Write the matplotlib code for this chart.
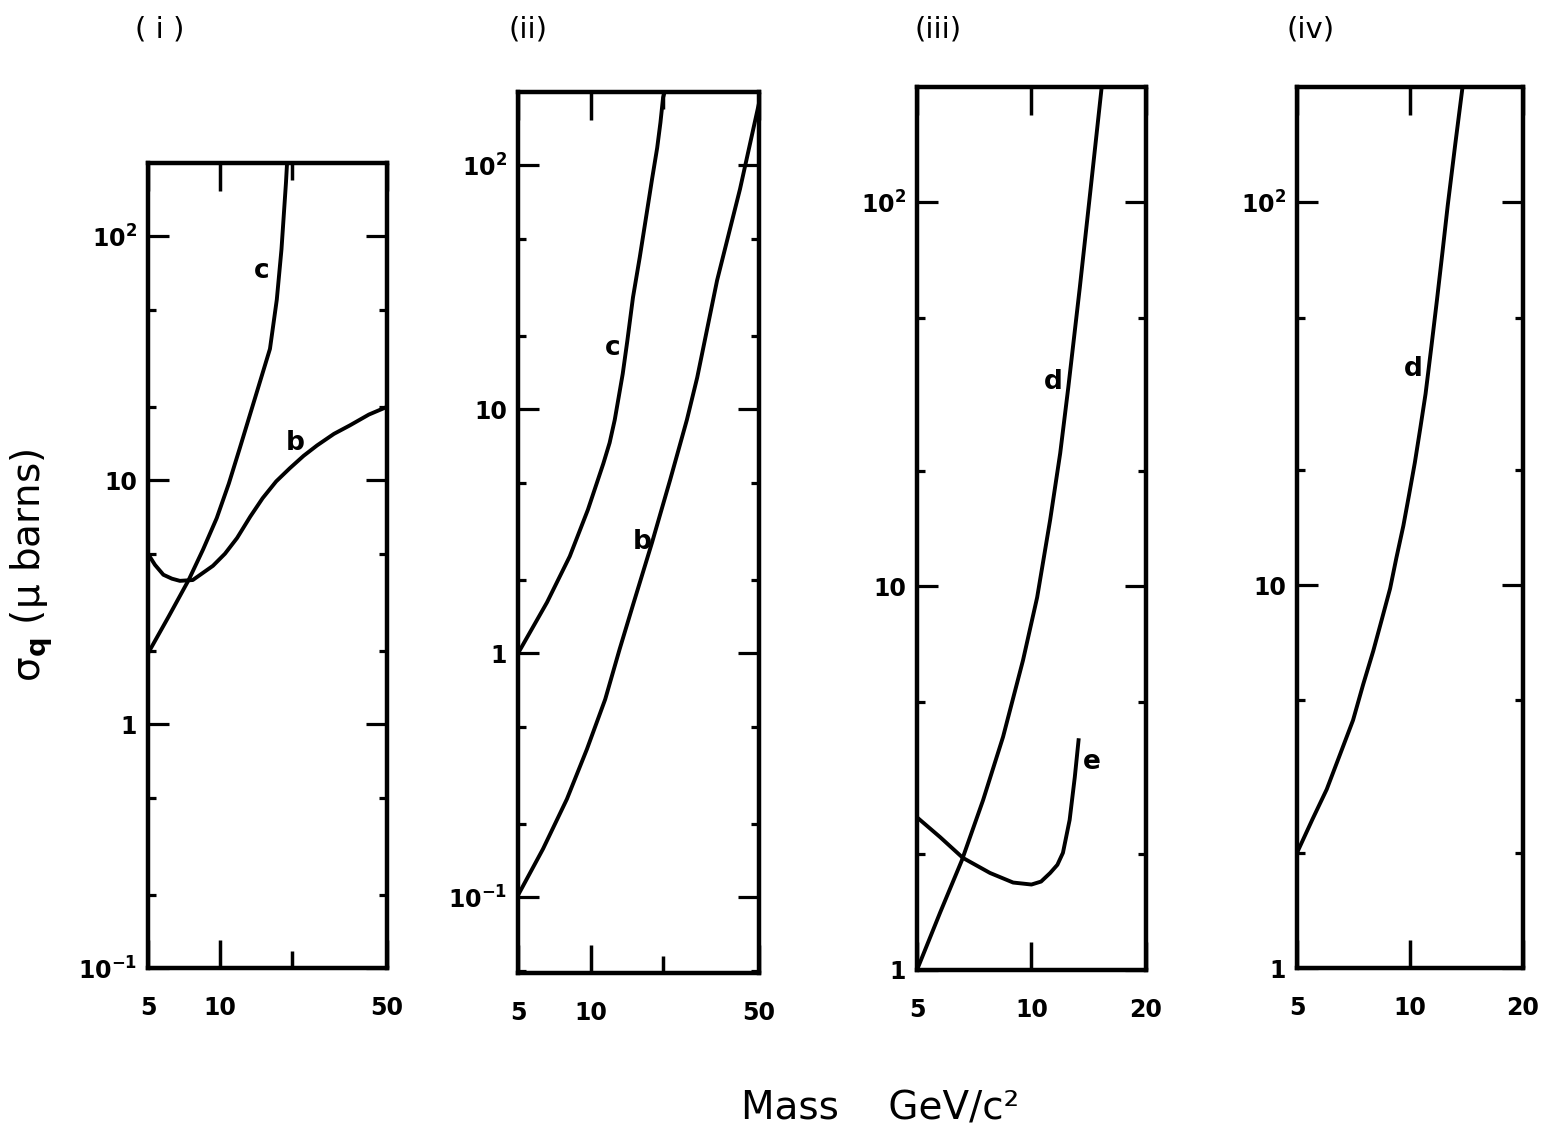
import matplotlib

matplotlib.use("Agg")
import matplotlib.pyplot as plt
from matplotlib.ticker import FixedLocator, FixedFormatter, NullFormatter

plt.rcParams.update(
    {
        "font.family": ["DejaVu Sans"],
        "font.weight": "bold",
        "mathtext.default": "bf",
    }
)

# ---- data (mass in GeV/c^2, sigma in micro-barns) ----
# panel (i)
I_C_MASS = [5.0, 6.1, 7.4, 8.5, 9.7, 10.9, 12.1, 14.0, 16.2, 17.3, 18.1, 18.9, 19.1]
I_C_SIG = [1.95, 2.76, 3.9, 5.2, 7.0, 9.7, 13.5, 21.6, 34.6, 55, 88.5, 166, 200]
I_B_MASS = [5.0, 5.35, 5.8, 6.3, 6.8, 7.7, 9.35, 10.5, 11.8, 13.4, 15.1, 17.2, 19.6,
            22.4, 25.5, 30.0, 35.0, 42.0, 50.0]
I_B_SIG = [5.0, 4.5, 4.1, 3.95, 3.87, 3.9, 4.46, 5.0, 5.8, 7.1, 8.45, 9.9, 11.2,
           12.6, 13.9, 15.5, 16.8, 18.6, 20.0]

# panel (ii)
II_C_MASS = [5.0, 6.6, 8.2, 9.75, 11.3, 12.0, 12.6, 13.1, 13.6, 14.2, 15.0, 16.0, 17.1,
             18.0, 18.9, 19.5, 20.0, 20.3]
II_C_SIG = [1.0, 1.62, 2.5, 3.88, 6.0, 7.3, 9.06, 11.3, 14.0, 19.0, 28.8, 42, 63.7,
            88, 118, 150, 190, 200]
II_B_MASS = [5.0, 6.35, 7.98, 9.66, 11.5, 13.2, 15.0, 18.0, 21.4, 25.1, 27.7, 33.5, 41.7, 50.0]
II_B_SIG = [0.102, 0.158, 0.253, 0.405, 0.648, 1.04, 1.58, 2.85, 5.15, 9.06, 13.5, 33.8, 80, 180]

# panel (iii)
III_D_MASS = [5.0, 5.75, 6.56, 7.46, 8.42, 9.5, 10.35, 11.2, 11.9, 12.5, 13.4, 14.3, 15.3]
III_D_SIG = [1.0, 1.41, 1.93, 2.77, 4.05, 6.41, 9.35, 14.9, 22.2, 33.0, 60.0, 108, 200]
III_E_MASS = [5.0, 5.75, 6.6, 7.78, 8.95, 10.0, 10.6, 11.2, 11.7, 12.1, 12.6, 13.0, 13.3]
III_E_SIG = [2.5, 2.22, 1.96, 1.79, 1.69, 1.67, 1.70, 1.79, 1.88, 2.02, 2.46, 3.18, 3.97]

# panel (iv)
IV_D_MASS = [5.0, 5.5, 6.0, 6.5, 7.05, 7.5, 7.98, 8.4, 8.85, 9.2, 9.6, 9.95, 10.3, 10.65,
             11.0, 11.4, 11.8, 12.2, 12.6, 13.2, 13.8]
IV_D_SIG = [2.0, 2.45, 2.93, 3.6, 4.44, 5.5, 6.73, 8.1, 9.8, 11.8, 14.3, 17.3, 20.9, 25.7,
            31.6, 42, 55.7, 74, 98, 142, 200]

PANEL_TITLES = ["( i )", "(ii)", "(iii)", "(iv)"]
Y_TICKS_WIDE = [0.1, 1, 10, 100]
Y_LABELS_WIDE = ["$10^{-1}$", "1", "10", "$10^{2}$"]
Y_TICKS_NARROW = [1, 10, 100]
Y_LABELS_NARROW = ["1", "10", "$10^{2}$"]
Y_MINOR = [0.05, 0.2, 0.5, 2, 5, 20, 50]
X_TICKS_WIDE = [5, 10, 50]
X_TICKS_NARROW = [5, 10, 20]

LW = 2.8
INK = "black"


def style_axes(ax, xlim, ylim, xticks, xminor, yticks, ylabels):
    ax.set_xscale("log")
    ax.set_yscale("log")
    ax.set_xlim(*xlim)
    ax.set_ylim(*ylim)
    for s in ax.spines.values():
        s.set_linewidth(3.2)
    ax.xaxis.set_major_locator(FixedLocator(xticks))
    ax.xaxis.set_major_formatter(FixedFormatter([str(t) for t in xticks]))
    ax.xaxis.set_minor_locator(FixedLocator(xminor))
    ax.xaxis.set_minor_formatter(NullFormatter())
    ax.yaxis.set_major_locator(FixedLocator(yticks))
    ax.yaxis.set_major_formatter(FixedFormatter(ylabels))
    ax.yaxis.set_minor_locator(FixedLocator([m for m in Y_MINOR if ylim[0] < m < ylim[1]]))
    ax.yaxis.set_minor_formatter(NullFormatter())
    ax.tick_params(which="both", direction="in", top=True, right=True, color=INK)
    ax.tick_params(axis="x", which="major", length=20, width=2.5, pad=20, labelsize=17)
    ax.tick_params(axis="x", which="minor", length=12, width=2.5)
    ax.tick_params(axis="y", which="major", length=15, width=2.3, pad=8, labelsize=17)
    ax.tick_params(axis="y", which="minor", length=6, width=2.3)


def label(ax, x, y, s):
    ax.text(x, y, s, fontsize=19, fontweight="bold", ha="center", va="center")


fig = plt.figure(figsize=(15.64, 11.44), dpi=100)

ax1 = fig.add_axes([0.0946, 0.1538, 0.1528, 0.7037])
ax2 = fig.add_axes([0.3312, 0.1495, 0.1541, 0.7701])
ax3 = fig.add_axes([0.5863, 0.1521, 0.1464, 0.7719])
ax4 = fig.add_axes([0.8293, 0.1538, 0.1445, 0.7701])

# (i)
ax1.plot(I_C_MASS, I_C_SIG, color=INK, lw=LW)
ax1.plot(I_B_MASS, I_B_SIG, color=INK, lw=LW)
style_axes(ax1, (5, 50), (0.1, 200), X_TICKS_WIDE, [20], Y_TICKS_WIDE, Y_LABELS_WIDE)
label(ax1, 15.0, 72, "c")
label(ax1, 20.6, 14.2, "b")

# (ii)
ax2.plot(II_C_MASS, II_C_SIG, color=INK, lw=LW)
ax2.plot(II_B_MASS, II_B_SIG, color=INK, lw=LW)
style_axes(ax2, (5, 50), (0.049, 200), X_TICKS_WIDE, [20], Y_TICKS_WIDE, Y_LABELS_WIDE)
label(ax2, 12.3, 17.9, "c")
label(ax2, 16.3, 2.87, "b")

# (iii)
ax3.plot(III_D_MASS, III_D_SIG, color=INK, lw=LW)
ax3.plot(III_E_MASS, III_E_SIG, color=INK, lw=LW)
style_axes(ax3, (5, 20), (1, 200), X_TICKS_NARROW, [], Y_TICKS_NARROW, Y_LABELS_NARROW)
label(ax3, 11.4, 34, "d")
label(ax3, 14.4, 3.48, "e")

# (iv)
ax4.plot(IV_D_MASS, IV_D_SIG, color=INK, lw=LW)
style_axes(ax4, (5, 20), (1, 200), X_TICKS_NARROW, [], Y_TICKS_NARROW, Y_LABELS_NARROW)
label(ax4, 10.2, 36.8, "d")

for xpos, title in zip([0.102, 0.3376, 0.5997, 0.838], PANEL_TITLES):
    fig.text(xpos, 0.974, title, fontsize=21, fontweight="normal", ha="center", va="center")

fig.text(0.020, 0.506, "σ$_q$ (μ barns)", fontsize=28, fontweight="normal",
         rotation=90, ha="center", va="center")
fig.text(0.563, 0.031, "Mass    GeV/c²", fontsize=28, fontweight="normal",
         ha="center", va="center")

fig.savefig("out.png", dpi=100)
